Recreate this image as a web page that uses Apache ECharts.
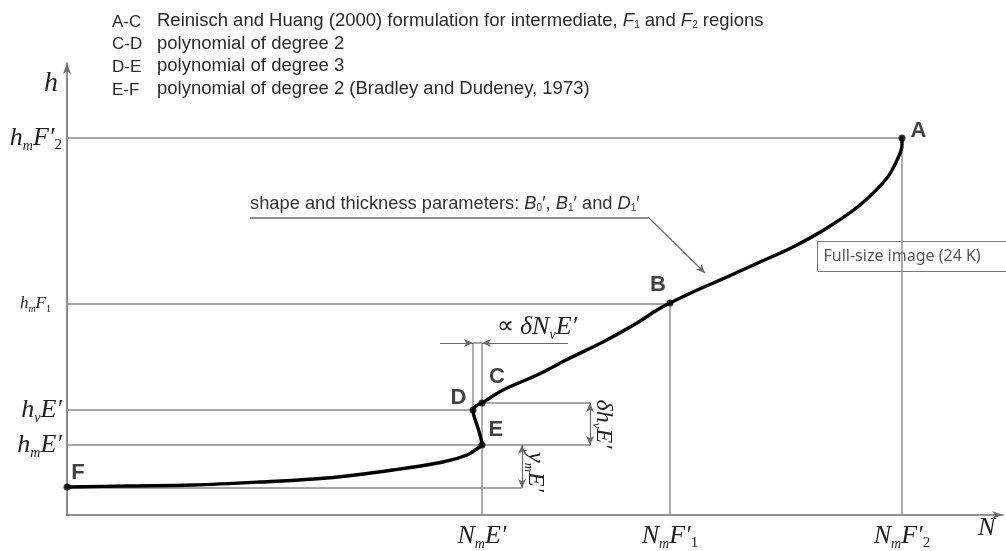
<!DOCTYPE html>
<html>
<head>
<meta charset="utf-8">
<script src="https://cdn.jsdelivr.net/npm/echarts@6/dist/echarts.min.js"></script>
<style>
  html, body { margin: 0; padding: 0; background: #fff; }
  #chart { width: 1006px; height: 551px; }
</style>
</head>
<body>
<div id="chart"></div>
<script>
// Characteristic electron-density-profile levels (arbitrary N / h units)
const NmE = 415, NvD = 406, NmF1 = 603, NmF2 = 835;
const hmF2 = 377, hmF1 = 211, hvE = 105, hC = 112, hmE = 70, hF = 27;
const axisMaxN = 936, axisMaxH = 452;

// Profile h(N) from F (bottom) through E, D, C, B up to A (F2 peak)
const profileN = [0, 60, 126, 193, 260, 326, 376, 400, 411, 415,
                  413, 410, 407, 406,
                  409, 415,
                  436, 470, 503, 536, 570, 590, 603,
                  626, 660, 693, 726, 760, 793, 820, 831, 835, 835];
const profileH = [28, 29, 30, 33, 37, 45, 53, 60, 67, 70,
                  80, 90, 99, 105,
                  109, 112,
                  125, 140, 157, 173, 192, 205, 212,
                  223, 238, 253, 268, 287, 310, 337, 357, 370, 377];

// Named anchor points of the profile
const pointNames = ['A', 'B', 'C', 'D', 'E', 'F'];
const pointN = [NmF2, NmF1, NmE, NvD, NmE, 0];
const pointH = [hmF2, 212, hC, hvE, hmE, 28];

// Tick labels
const xTickValues = [NmE, NmF1, NmF2];
const xTickLabels = ['{i|N}{s|m}{i|E′}', '{i|N}{s|m}{i|F′}{n|1}', '{i|N}{s|m}{i|F′}{n|2}'];
const yTickValues = [hmE, hvE, hmF1, hmF2];
const yTickLabels = ['{i|h}{s|m}{i|E′}', '{i|h}{s|v}{i|E′}', '{si|h}{ss|m}{si|F}{sn|1}{gp|}', '{i|h}{s|m}{i|F′}{n|2}'];

// Region legend
const legendCodes = ['A-C', 'C-D', 'D-E', 'E-F'];
const legendTexts = [
  '{t|Reinisch and Huang (2000) formulation for intermediate, }{it|F}{sb|1}{t| and }{it|F}{sb|2}{t| regions}',
  '{t|polynomial of degree 2}',
  '{t|polynomial of degree 3}',
  '{t|polynomial of degree 2 (Bradley and Dudeney, 1973)}'
];

const SERIF = 'Liberation Serif, Times New Roman, serif';
const SANS = 'Liberation Sans, Arial, sans-serif';
const INK = '#1e1e1e';
const GUIDE = '#8a8a8a';
const TEXT = '#2a2a2a';

const mathRich = {
  i:  { fontFamily: SERIF, fontStyle: 'italic', fontSize: 26, lineHeight: 30, color: INK },
  s:  { fontFamily: SERIF, fontStyle: 'italic', fontSize: 14, lineHeight: 12, verticalAlign: 'bottom', color: INK },
  n:  { fontFamily: SERIF, fontSize: 15, lineHeight: 12, verticalAlign: 'bottom', color: INK },
  si: { fontFamily: SERIF, fontStyle: 'italic', fontSize: 17, lineHeight: 20, color: INK },
  ss: { fontFamily: SERIF, fontStyle: 'italic', fontSize: 10, lineHeight: 8, verticalAlign: 'bottom', color: INK },
  sn: { fontFamily: SERIF, fontSize: 10, lineHeight: 8, verticalAlign: 'bottom', color: INK },
  gp: { width: 11 }
};

function seg(a, b) { return [a, b]; }

// Thin guide lines (levels and drop lines)
const guides = [
  seg([0, hmF2], [NmF2, hmF2]),
  seg([0, hmF1], [NmF1, hmF1]),
  seg([0, hvE], [NvD, hvE]),
  seg([NmE, hC], [523, hC]),
  seg([0, hmE], [523, hmE]),
  seg([0, hF], [455, hF]),
  seg([NmE, 0], [NmE, 172]),
  seg([NvD, hvE], [NvD, 172]),
  seg([NmF1, 0], [NmF1, hmF1]),
  seg([NmF2, 0], [NmF2, hmF2]),
  seg([NvD, 172], [NmE, 172])
];

const guideSeries = guides.map(g => ({
  type: 'line', data: g, symbol: 'none', silent: true, z: 2,
  lineStyle: { color: GUIDE, width: 1.4 }
}));

function arrowLine(a, b, both) {
  return {
    symbol: both ? ['arrow', 'arrow'] : ['none', 'arrow'],
    symbolSize: [6, 9],
    data: [[{ coord: a }, { coord: b }]]
  };
}

// Dimension arrows and the pointer from the parameter note
const dims = [
  arrowLine([373, 172], [NvD, 172], false),
  arrowLine([501, 172], [NmE, 172], false),
  arrowLine([523, hC], [523, hmE], true),
  arrowLine([455, hmE], [455, hF], true),
  arrowLine([581, 298], [638, 242], false)
];

const dimSeries = dims.map(d => ({
  type: 'line', data: [], silent: true,
  markLine: {
    silent: true, animation: false,
    symbol: d.symbol, symbolSize: d.symbolSize,
    lineStyle: { color: '#6a6a6a', width: 1.2, type: 'solid' },
    label: { show: false },
    data: d.data
  }
}));

// Label offsets for the lettered points
const letterPlacement = {
  A: { position: 'right', offset: [1, -7] },
  B: { position: 'top', offset: [-12, 0] },
  C: { position: 'top', offset: [15, -8] },
  D: { position: 'left', offset: [1, -12] },
  E: { position: 'right', offset: [-1, -15] },
  F: { position: 'top', offset: [11, 4] }
};

const pointData = pointNames.map((nm, k) => ({
  name: nm,
  value: [pointN[k], pointH[k]],
  label: letterPlacement[nm]
}));

const chart = echarts.init(document.getElementById('chart'), null, { renderer: 'canvas' });

const legendRich = {
  t: { fontFamily: SANS, fontSize: 18.5, fill: TEXT },
  it: { fontFamily: SANS, fontStyle: 'italic', fontSize: 18.5, fill: TEXT },
  sb: { fontFamily: SANS, fontSize: 10, fill: TEXT, verticalAlign: 'bottom', lineHeight: 13 }
};

const option = {
  backgroundColor: '#ffffff',
  animation: false,
  grid: { left: 67, top: 63, width: 936, height: 452, containLabel: false },
  xAxis: {
    type: 'value', min: 0, max: axisMaxN,
    name: 'N', nameLocation: 'end', nameGap: -25,
    nameTextStyle: { fontFamily: SERIF, fontStyle: 'italic', fontSize: 26, color: INK, verticalAlign: 'top', padding: [0, 0, 0, 0] },
    axisLine: { show: true, symbol: ['none', 'arrow'], symbolSize: [6, 11], lineStyle: { color: '#6e6e6e', width: 1.6 } },
    axisTick: { show: false },
    splitLine: { show: false },
    axisLabel: {
      customValues: xTickValues,
      formatter: v => xTickLabels[xTickValues.indexOf(v)],
      margin: 6,
      rich: mathRich
    }
  },
  yAxis: {
    type: 'value', min: 0, max: axisMaxH,
    name: 'h', nameLocation: 'end', nameGap: -21,
    nameTextStyle: { fontFamily: SERIF, fontStyle: 'italic', fontSize: 28, color: INK, align: 'right', verticalAlign: 'middle', padding: [0, 9, 0, 0] },
    axisLine: { show: true, symbol: ['none', 'arrow'], symbolSize: [6, 11], lineStyle: { color: '#6e6e6e', width: 1.6 } },
    axisTick: { show: false },
    splitLine: { show: false },
    axisLabel: {
      customValues: yTickValues,
      formatter: v => yTickLabels[yTickValues.indexOf(v)],
      margin: 5,
      align: 'right',
      rich: mathRich
    }
  },
  series: [
    ...guideSeries,
    ...dimSeries,
    {
      type: 'line',
      data: profileN.map((n, k) => [n, profileH[k]]),
      smooth: 0.35,
      symbol: 'none',
      z: 5,
      lineStyle: { color: '#000', width: 3.4, cap: 'round', join: 'round' }
    },
    {
      type: 'scatter',
      data: pointData,
      symbolSize: 7,
      z: 6,
      itemStyle: { color: '#000' },
      label: {
        show: true,
        formatter: '{b}',
        fontFamily: SANS, fontSize: 22, fontWeight: 'bold', color: '#111',
        distance: 4
      }
    }
  ],
  graphic: [
    ...legendCodes.map((code, k) => ({
      type: 'text', x: 112, y: 22 + k * 22.7,
      style: { text: code, fontFamily: SANS, fontSize: 17, fill: TEXT, verticalAlign: 'middle' }
    })),
    ...legendTexts.map((txt, k) => ({
      type: 'text', x: 157, y: 21 + k * 22.7,
      style: { text: txt, verticalAlign: 'middle', rich: legendRich }
    })),
    {
      type: 'text', x: 250, y: 204,
      style: {
        text: '{t|shape and thickness parameters: }{it|B}{sb|0}{t|′, }{it|B}{sb|1}{t|′ and }{it|D}{sb|1}{t|′}',
        verticalAlign: 'middle',
        rich: {
          t: { fontFamily: SANS, fontSize: 18.3, fill: '#333' },
          it: { fontFamily: SANS, fontStyle: 'italic', fontSize: 18.3, fill: '#333' },
          sb: { fontFamily: SANS, fontSize: 10, fill: '#333', verticalAlign: 'bottom', lineHeight: 12 }
        }
      }
    },
    {
      type: 'line', silent: true,
      shape: { x1: 250, y1: 218, x2: 648, y2: 218 },
      style: { stroke: '#6a6a6a', lineWidth: 1.4 }
    },
    {
      type: 'text', x: 497, y: 327,
      style: {
        text: '{o|∝ }{i|δN}{s|v}{i|E′}',
        verticalAlign: 'middle',
        rich: {
          o: { fontFamily: SERIF, fontSize: 24, fill: INK },
          i: { fontFamily: SERIF, fontStyle: 'italic', fontSize: 26, lineHeight: 30, fill: INK },
          s: { fontFamily: SERIF, fontStyle: 'italic', fontSize: 14, lineHeight: 10, verticalAlign: 'bottom', fill: INK }
        }
      }
    },
    {
      type: 'text', x: 603, y: 424, rotation: -Math.PI / 2,
      style: {
        text: '{i|δh}{s|v}{i|E′}',
        align: 'center', verticalAlign: 'middle',
        rich: {
          i: { fontFamily: SERIF, fontStyle: 'italic', fontSize: 24, lineHeight: 26, fill: INK },
          s: { fontFamily: SERIF, fontStyle: 'italic', fontSize: 13, lineHeight: 10, verticalAlign: 'bottom', fill: INK }
        }
      }
    },
    {
      type: 'text', x: 535, y: 472, rotation: -Math.PI / 2,
      style: {
        text: '{i|y}{s|m}{i|E′}',
        align: 'center', verticalAlign: 'middle',
        rich: {
          i: { fontFamily: SERIF, fontStyle: 'italic', fontSize: 24, lineHeight: 26, fill: INK },
          s: { fontFamily: SERIF, fontStyle: 'italic', fontSize: 13, lineHeight: 10, verticalAlign: 'bottom', fill: INK }
        }
      }
    },
    {
      type: 'group', left: 817, top: 241, z: 100,
      children: [
        {
          type: 'rect',
          shape: { x: 0, y: 0, width: 200, height: 30 },
          style: { fill: '#ffffff', stroke: '#7a7a7a', lineWidth: 1 }
        },
        {
          type: 'text', x: 6, y: 15,
          style: { text: 'Full-size image (24 K)', fontFamily: 'Noto Sans, Open Sans, sans-serif', fontSize: 16, fill: '#575757', verticalAlign: 'middle' }
        }
      ]
    }
  ]
};

chart.setOption(option);
</script>
</body>
</html>
